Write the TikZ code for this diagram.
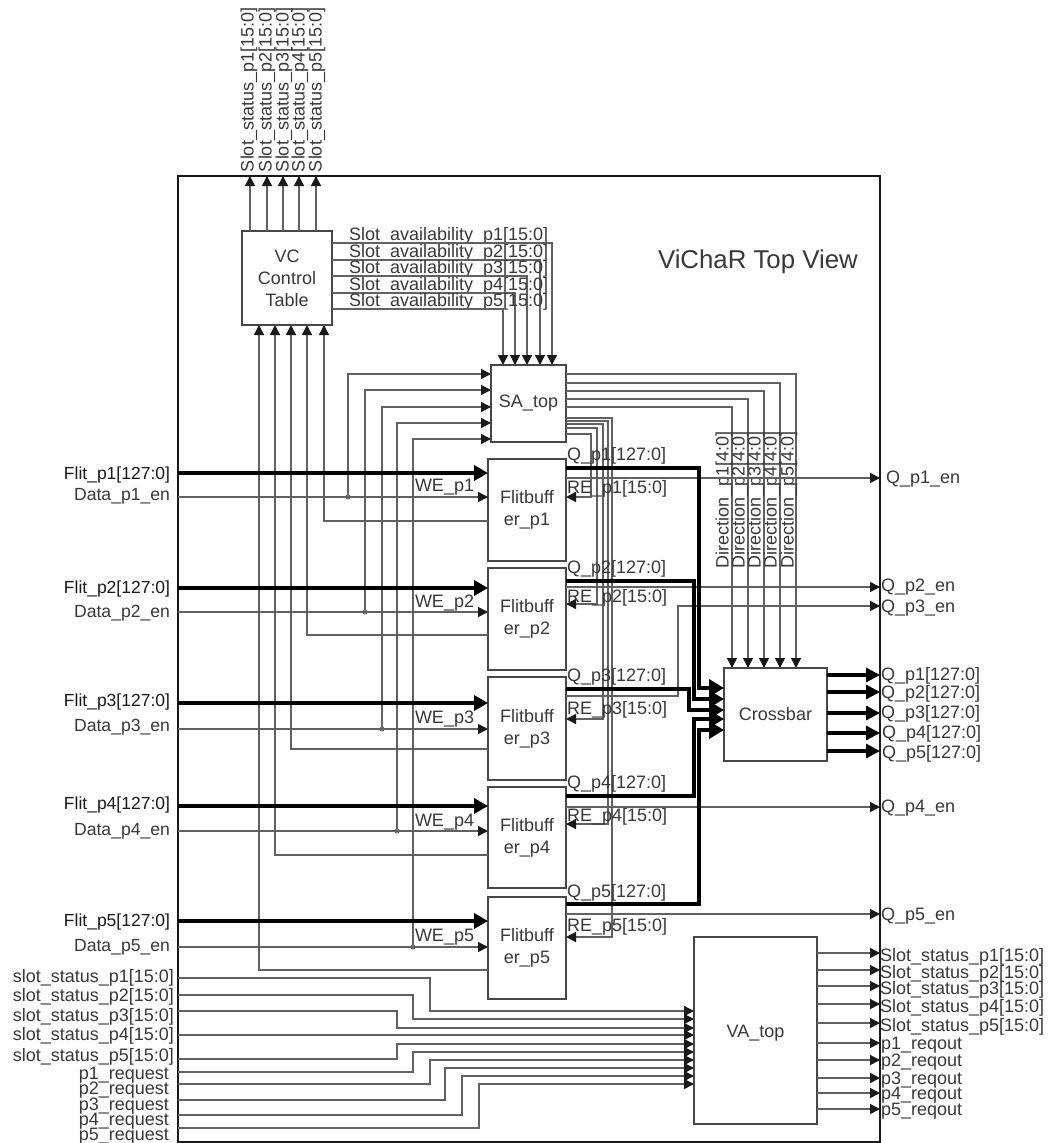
\documentclass[tikz,border=0pt]{standalone}
\usepackage{fontspec}
\setmainfont{Liberation Sans}
\usetikzlibrary{arrows.meta}
\tikzset{
  block/.style={draw=black!72,line width=1.3pt,anchor=north west,inner sep=0pt,outer sep=0pt,align=center,text=black!78},
  txt/.style={text=black!78,inner sep=0pt,outer sep=0pt,text height=13pt,text depth=0pt},
  vtxt/.style={txt,rotate=90,anchor=west},
  wire/.style={black!62,line width=1.4pt},
  sig/.style={wire,-{Triangle[length=10pt,width=10pt,color=black!90]}},
  bus/.style={black,line width=4pt,-{Triangle[length=14pt,width=15pt]}},
  qbus/.style={black,line width=3.6pt,-{Triangle[length=15pt,width=17pt]}},
  obus/.style={black,line width=3.2pt,-{Triangle[length=14pt,width=14pt]}},
  tap/.style={circle,draw=black!75,fill=white,line width=0.7pt,inner sep=0pt,minimum size=4pt,outer sep=0pt}
}
\begin{document}
\begin{tikzpicture}[x=1pt,y=-1pt,font=\fontsize{18}{22}\selectfont]
  \useasboundingbox (0,0) rectangle (1049,1143);
  \node[block,draw=black!90,minimum width=702,minimum height=966] (frame) at (178,176) {};
  \node[block,minimum width=90,minimum height=94] (vc) at (242,231) {VC\\Control\\Table};
  \node[block,minimum width=75,minimum height=77] (sa) at (491,365) {SA\_top};
  \node[block,minimum width=103,minimum height=93] (xbar) at (724,668) {Crossbar};
  \node[block,minimum width=123,minimum height=187,text height=13pt,text depth=0pt] (va) at (694,937) {VA\_top};
  \node[txt,text height=18pt,anchor=west,font=\fontsize{25.8}{28}\selectfont] (title) at (658,259) {ViChaR Top View};
  \foreach \n/\y/\h in {1/459/102,2/568/102,3/677/103,4/787/101,5/897/102}
    \node[block,minimum width=78,minimum height=\h] (buf\n) at (488,\y) {Flitbuff\\er\_p\n};

  \foreach \n/\x/\lx in {1/250/247,2/267/265,3/283/282,4/299/298,5/316/315} {
    \node[vtxt] (top\n) at (\lx,172) {Slot\_status\_p\n[15:0]};
    \draw[sig] (vc.north -| \x,0) -- (frame.north -| \x,0);
  }
  \foreach \n/\y/\x/\ly in {1/243/552/234,2/260/540/251,3/276/527/267,4/293/515/284,5/309/503/300} {
    \node[txt,anchor=west] (avail\n) at (349,\ly) {Slot\_availability\_p\n[15:0]};
    \draw[sig] (vc.east |- 0,\y) -| (sa.north -| \x,0);
  }
  \foreach \n/\x/\y/\ya/\ly in {1/348/497/374/485,2/365/612/390/601,3/382/729/407/717,4/397/831/423/820,5/413/947/439/935} {
    \node[tap] (tap\n) at (\x,\y) {};
    \draw[sig] (tap\n) |- (sa.west |- 0,\ya);
    \node[txt,anchor=west] (we\n) at (415,\ly) {WE\_p\n};
  }
  \foreach \n/\y/\x in {1/521/324,2/635/307,3/749/291,4/855/275,5/970/259}
    \draw[sig] (buf\n.west |- 0,\y) -| (vc.south -| \x,0);
  \foreach \n/\yf/\yd/\lf/\ld in {1/473/497/473/494,2/588/612/587/611,3/703/729/700/725,4/806/831/803/829,5/921/947/920/945} {
    \node[txt,text=black!90,anchor=east,font=\fontsize{17.5}{20}\selectfont] (flit\n) at (170,\lf) {Flit\_p\n[127:0]};
    \node[txt,anchor=east,font=\fontsize{17.6}{20}\selectfont] (data\n) at (170,\ld) {Data\_p\n\_en};
    \draw[sig] (frame.west |- 0,\yd) -- (buf\n.west |- 0,\yd);
    \draw[bus] (frame.west |- 0,\yf) -- (buf\n.west |- 0,\yf);
  }
  \foreach \y/\x in {374/796,383/780,391/764,399/748,407/732}
    \draw[sig] (sa.east |- 0,\y) -| (xbar.north -| \x,0);
  \foreach \n/\x in {1/722,2/738,3/754,4/770,5/787}
    \node[vtxt] (dir\n) at (\x,568) {Direction\_p\n[4:0]};
  \foreach \n/\ys/\x/\ya in {1/434/591/497,2/428/597/604,3/424/603/719,4/421/608/824,5/418/612/937}
    \draw[sig] (sa.east |- 0,\ys) -| (\x,\ya) -- (buf\n.east |- 0,\ya);
  \foreach \n/\yq/\yr in {1/454/487,2/567/596,3/675/708,4/782/815,5/891/925} {
    \node[txt,anchor=west] (q\n) at (567,\yq) {Q\_p\n[127:0]};
    \node[txt,anchor=west] (re\n) at (567,\yr) {RE\_p\n[15:0]};
  }
  \foreach \n/\y/\ly/\lx in {1/478/477/886,2/587/585/881,4/807/806/881,5/914/914/881} {
    \draw[sig] (buf\n.east |- 0,\y) -- (frame.east |- 0,\y);
    \node[txt,anchor=west] (en\n) at (\lx,\ly) {Q\_p\n\_en};
  }
  \draw[sig] (buf3.east |- 0,696) -| (678,606) -- (frame.east |- 0,606);
  \node[txt,anchor=west] (en3) at (881,606) {Q\_p3\_en};
  \foreach \n/\y/\x/\ya in {1/468/699/688,2/581/694/699,3/689/689/710,4/796/694/719,5/904/699/730}
    \draw[qbus] (buf\n.east |- 0,\y) -| (\x,\ya) -- (xbar.west |- 0,\ya);
  \foreach \n/\y/\ly/\lx in {1/675/674/881,2/692/692/881,3/713/712/881,4/733/732/882,5/751/752/882} {
    \draw[obus] (xbar.east |- 0,\y) -- (frame.east |- 0,\y);
    \node[txt,anchor=west] (out\n) at (\lx,\ly) {Q\_p\n[127:0]};
  }
  \foreach \n/\y/\ly/\x/\ya in {1/978/976/430/1011,2/995/995/413/1019,3/1011/1015/397/1028,5/1059/1055/397/1044} {
    \node[txt,anchor=east] (slot\n) at (174,\ly) {slot\_status\_p\n[15:0]};
    \draw[sig] (frame.west |- 0,\y) -| (\x,\ya) -- (va.west |- 0,\ya);
  }
  \node[txt,anchor=east] (slot4) at (174,1034) {slot\_status\_p4[15:0]};
  \draw[sig] (frame.west |- 0,1035) -- (va.west |- 0,1035);
  \foreach \n/\y/\ly/\x/\ya in {1/1072/1073/413/1052,2/1084/1088/430/1060,3/1100/1104/445/1068,4/1115/1119/462/1076,5/1128/1134/479/1084} {
    \node[txt,anchor=east] (req\n) at (169,\ly) {p\n\_request};
    \draw[sig] (frame.west |- 0,\y) -| (\x,\ya) -- (va.west |- 0,\ya);
  }
  \foreach \n/\y/\r in {1/953/1043,2/970/1060,3/986/1078,4/1004/1093,5/1023/1109} {
    \draw[sig] (va.east |- 0,\y) -- (frame.east |- 0,\y);
    \node[txt,anchor=west] (stat\n) at (880,\y+1.5) {Slot\_status\_p\n[15:0]};
    \draw[sig] (va.east |- 0,\r) -- (frame.east |- 0,\r);
    \node[txt,anchor=west] (rout\n) at (881,\r) {p\n\_reqout};
  }
\end{tikzpicture}
\end{document}
